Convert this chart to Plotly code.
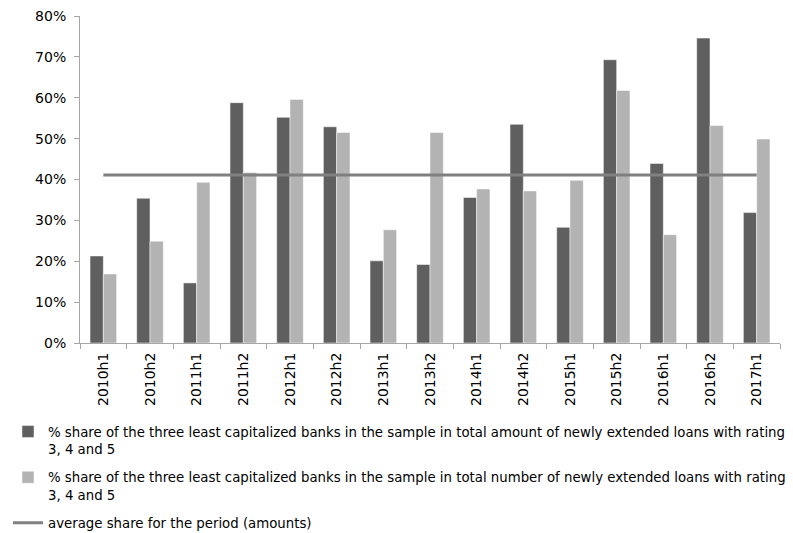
import plotly.graph_objects as go

# Data
periods = ["2010h1", "2010h2", "2011h1", "2011h2", "2012h1", "2012h2", "2013h1", "2013h2",
           "2014h1", "2014h2", "2015h1", "2015h2", "2016h1", "2016h2", "2017h1"]
share_amount = [0.213, 0.354, 0.147, 0.588, 0.552, 0.529, 0.201, 0.192,
                0.356, 0.535, 0.283, 0.693, 0.439, 0.746, 0.319]
share_number = [0.169, 0.249, 0.393, 0.417, 0.596, 0.515, 0.277, 0.515,
                0.377, 0.372, 0.398, 0.618, 0.265, 0.532, 0.499]
avg_amount = 0.411

name1 = "% share of the three least capitalized banks in the sample in total amount of newly extended loans with rating<br>3, 4 and 5"
name2 = "% share of the three least capitalized banks in the sample in total number of newly extended loans with rating<br>3, 4 and 5"
name3 = "average share for the period (amounts)"

fig = go.Figure()
fig.add_trace(go.Bar(x=periods, y=share_amount, name=name1, marker_color="#5f5f5f",
                     legendgroup="a"))
fig.add_trace(go.Bar(x=periods, y=share_number, name=name2, marker_color="#b3b3b3",
                     legendgroup="b"))
fig.add_trace(go.Scatter(x=periods, y=[avg_amount] * len(periods), mode="lines", name=name3,
                         line={"color": "#808080", "width": 3}, legendgroup="c"))

# X-Axis
fig.update_xaxes(type="category", tickangle=-90, showline=True, linecolor="#a6a6a6",
                 ticks="outside", tickson="boundaries", ticklen=5, tickcolor="#a6a6a6",
                 ticklabelstandoff=3, ticklabeloverflow="allow",
                 tickfont=dict(family="DejaVu Sans", size=14, color="#000000"))

# Y-axis
fig.update_yaxes(range=[0, 0.8], tickvals=[0, 0.1, 0.2, 0.3, 0.4, 0.5, 0.6, 0.7, 0.8],
                 tickformat=".0%", showgrid=False, zeroline=False,
                 showline=True, linecolor="#a6a6a6", ticks="outside", ticklen=5,
                 tickcolor="#a6a6a6", ticklabelstandoff=5, ticklabeloverflow="allow",
                 tickfont=dict(family="DejaVu Sans", size=14, color="#000000"))

# Layout (page body adds 8px offset)
fig.update_layout(width=785, height=525,
                  margin=dict(l=72, r=13, t=8, b=190, autoexpand=False),
                  template="plotly_white",
                  plot_bgcolor="white", paper_bgcolor="white",
                  barmode="group", bargap=0.43, bargroupgap=0,
                  showlegend=True,
                  legend=dict(orientation="v", xref="container", yref="container",
                              x=0.0, y=0.222, xanchor="left", yanchor="top",
                              traceorder="grouped", tracegroupgap=8, valign="top",
                              itemwidth=30,
                              font=dict(family="DejaVu Sans", size=13.3, color="#000000")))

fig.write_html("out.html")
